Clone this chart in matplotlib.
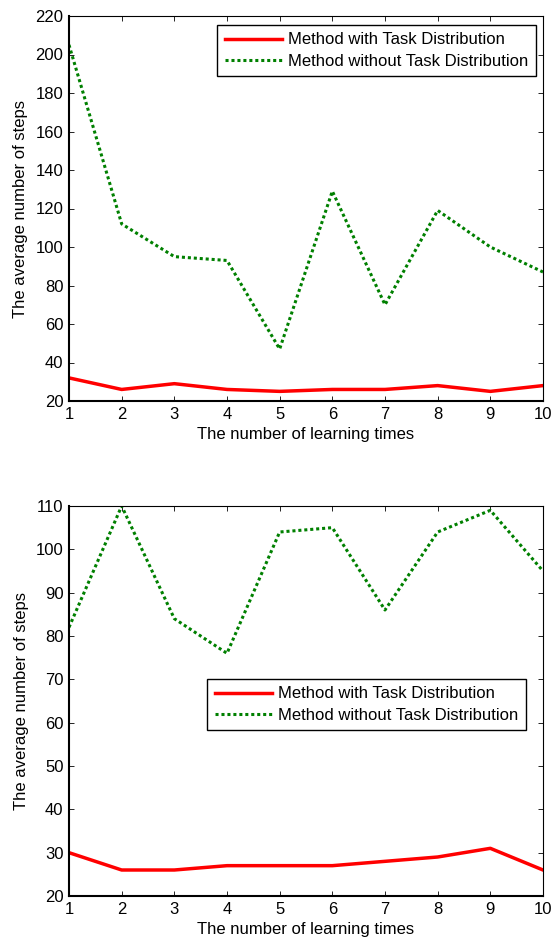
import matplotlib
matplotlib.use("Agg")
import matplotlib.pyplot as plt

plt.rcParams['font.family'] = ['Liberation Sans', 'DejaVu Sans']

learning_times = [1, 2, 3, 4, 5, 6, 7, 8, 9, 10]

top_with = [32, 26, 29, 26, 25, 26, 26, 28, 25, 28]
top_without = [205, 112, 95, 93, 47, 129, 70, 119, 100, 87]

bottom_with = [30, 26, 26, 27, 27, 27, 28, 29, 31, 26]
bottom_without = [82, 110, 84, 76, 104, 105, 86, 104, 109, 95]

label_with = "Method with Task Distribution"
label_without = "Method without Task Distribution"
xlabel = "The number of learning times"
ylabel = "The average number of steps"

W, H = 553, 942
fig = plt.figure(figsize=(W / 100, H / 100), dpi=100)

def make_axes(l, t, r, b):
    return fig.add_axes([l / W, 1 - b / H, (r - l) / W, (b - t) / H])

ax1 = make_axes(69, 16, 543, 401)
ax2 = make_axes(69, 506, 543, 896)

FS = 12

def style(ax, with_vals, without_vals, ylim, yticks, leg_anchor):
    ax.plot(learning_times, with_vals, color='#ff0000', lw=2.5, label=label_with)
    ax.plot(learning_times, without_vals, color='#008000', lw=2.2,
            linestyle=(0, (1, 0.95)), label=label_without)
    ax.set_xlim(1, 10)
    ax.set_ylim(*ylim)
    ax.set_xticks(learning_times)
    ax.set_yticks(yticks)
    ax.tick_params(direction='in', top=True, right=True, length=3.5, width=0.6,
                   labelsize=FS, pad=4, colors='black')
    for name, s in ax.spines.items():
        s.set_linewidth(1.5 if name in ('left', 'bottom') else 0.8)
        s.set_color('black')
    ax.set_xlabel(xlabel, fontsize=FS, labelpad=4)
    ax.set_ylabel(ylabel, fontsize=FS, labelpad=5)
    leg = ax.legend(loc='upper right', bbox_to_anchor=leg_anchor, fontsize=FS,
                    handlelength=3.4, labelspacing=0.38, borderpad=0.45,
                    handletextpad=0.4, fancybox=False, framealpha=1,
                    edgecolor='black', borderaxespad=0)
    leg.get_frame().set_linewidth(1.0)

style(ax1, top_with, top_without, (20, 220), range(20, 221, 20),
      ((536 - 69) / 474, (401 - 25) / 385))
style(ax2, bottom_with, bottom_without, (20, 110), range(20, 111, 10),
      ((526 - 69) / 474, (896 - 679) / 390))

fig.savefig("out.png", dpi=100)
